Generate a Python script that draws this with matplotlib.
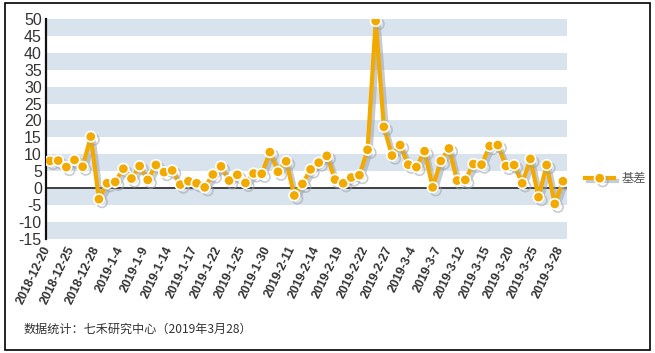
import matplotlib
matplotlib.use("Agg")
import matplotlib.pyplot as plt
import matplotlib.patheffects as pe
import matplotlib.transforms as mtransforms
from matplotlib.patches import Rectangle

dates = ["2018-12-20", "2018-12-21", "2018-12-24", "2018-12-25", "2018-12-26", "2018-12-27", "2018-12-28",
         "2019-1-2", "2019-1-3", "2019-1-4", "2019-1-7", "2019-1-8", "2019-1-9", "2019-1-10", "2019-1-11",
         "2019-1-14", "2019-1-15", "2019-1-16", "2019-1-17", "2019-1-18", "2019-1-21", "2019-1-22",
         "2019-1-23", "2019-1-24", "2019-1-25", "2019-1-28", "2019-1-29", "2019-1-30", "2019-1-31",
         "2019-2-1", "2019-2-11", "2019-2-12", "2019-2-13", "2019-2-14", "2019-2-15", "2019-2-18",
         "2019-2-19", "2019-2-20", "2019-2-21", "2019-2-22", "2019-2-25", "2019-2-26", "2019-2-27",
         "2019-2-28", "2019-3-1", "2019-3-4", "2019-3-5", "2019-3-6", "2019-3-7", "2019-3-8",
         "2019-3-11", "2019-3-12", "2019-3-13", "2019-3-14", "2019-3-15", "2019-3-18", "2019-3-19",
         "2019-3-20", "2019-3-21", "2019-3-22", "2019-3-25", "2019-3-26", "2019-3-27", "2019-3-28"]

basis = [8.0, 8.1, 6.2, 8.3, 6.3, 15.2, -3.3, 1.4, 1.8, 5.7,
         2.8, 6.5, 2.4, 6.8, 4.7, 5.2, 1.0, 2.0, 1.4, 0.2,
         4.0, 6.4, 2.2, 3.9, 1.5, 4.3, 4.2, 10.6, 4.8, 7.9,
         -2.2, 1.2, 5.5, 7.5, 9.5, 2.5, 1.4, 3.1, 3.8, 11.3,
         49.4, 18.1, 9.6, 12.7, 6.9, 6.2, 10.9, 0.2, 8.0, 11.7,
         2.2, 2.4, 7.1, 6.9, 12.4, 12.7, 6.5, 6.8, 1.4, 8.6,
         -2.7, 6.8, -4.7, 2.0]

series_name = "基差"
y_ticks = list(range(-15, 55, 5))
label_step = 3
footnote = "数据统计：七禾研究中心（2019年3月28）"

W, H = 655, 353
fig = plt.figure(figsize=(W / 100, H / 100), dpi=100)
fig.patch.set_facecolor("white")

ax = fig.add_axes([46 / W, 1 - 238.7 / H, (567 - 46) / W, (238.7 - 19) / H])
ax.set_facecolor("white")

orange = "#f2a900"
band = "#d9e3ee"

# alternating bands
for lo in range(-15, 50, 10):
    ax.axhspan(lo, lo + 5, color=band, lw=0, zorder=0)

x = list(range(len(basis)))
ax.set_xlim(-0.5, len(basis) - 0.5)
ax.set_ylim(-15, 50)

ax.axhline(0, color="#333333", lw=1.3, zorder=1)

line, = ax.plot(x, basis, color=orange, lw=3.0, marker="o", markersize=7.5,
                markerfacecolor=orange, markeredgecolor="white", markeredgewidth=1.2,
                zorder=3, label=series_name,
                path_effects=[pe.SimpleLineShadow(offset=(2.2, -2.2), shadow_color="#9aa3ad", alpha=0.55),
                              pe.Normal()])

for s in ["top", "right", "bottom"]:
    ax.spines[s].set_visible(False)
ax.spines["left"].set_color("#111111")
ax.spines["left"].set_linewidth(1.6)

ax.set_yticks(y_ticks)
ax.set_yticklabels([str(v) for v in y_ticks], fontsize=11.5, color="#333333",
                   family=["Liberation Sans", "DejaVu Sans"])
ax.tick_params(axis="y", length=0, pad=3)

tick_idx = list(range(0, len(dates), label_step))
ax.set_xticks(tick_idx)
ax.set_xticklabels([dates[i] for i in tick_idx], rotation=64, ha="right", va="top",
                   fontsize=8.9, fontweight="bold", color="#333333",
                   family=["Liberation Sans", "DejaVu Sans"])
ax.tick_params(axis="x", length=0, pad=4)
offset = mtransforms.ScaledTranslation(3 / 100, 0, fig.dpi_scale_trans)
for lab in ax.get_xticklabels():
    lab.set_transform(lab.get_transform() + offset)

# legend
leg = fig.legend(handles=[line], labels=[series_name], loc="center left",
                 bbox_to_anchor=(574 / W, 1 - 179 / H), frameon=False,
                 handlelength=2.4, handletextpad=0.6,
                 prop={"family": ["Noto Sans CJK SC", "DejaVu Sans"], "size": 8.8})
for t in leg.get_texts():
    t.set_color("#555555")

fig.text(24 / W, 1 - 329 / H, footnote, fontsize=8.7, color="#333333", va="center", ha="left",
         family=["Noto Sans CJK SC", "DejaVu Sans"])

# outer border
fig.add_artist(Rectangle((5 / W, 1 - 350 / H), (650 - 5) / W, (350 - 3) / H,
                         transform=fig.transFigure, fill=False, edgecolor="black", lw=1.2))

fig.savefig("out.png", dpi=100)
